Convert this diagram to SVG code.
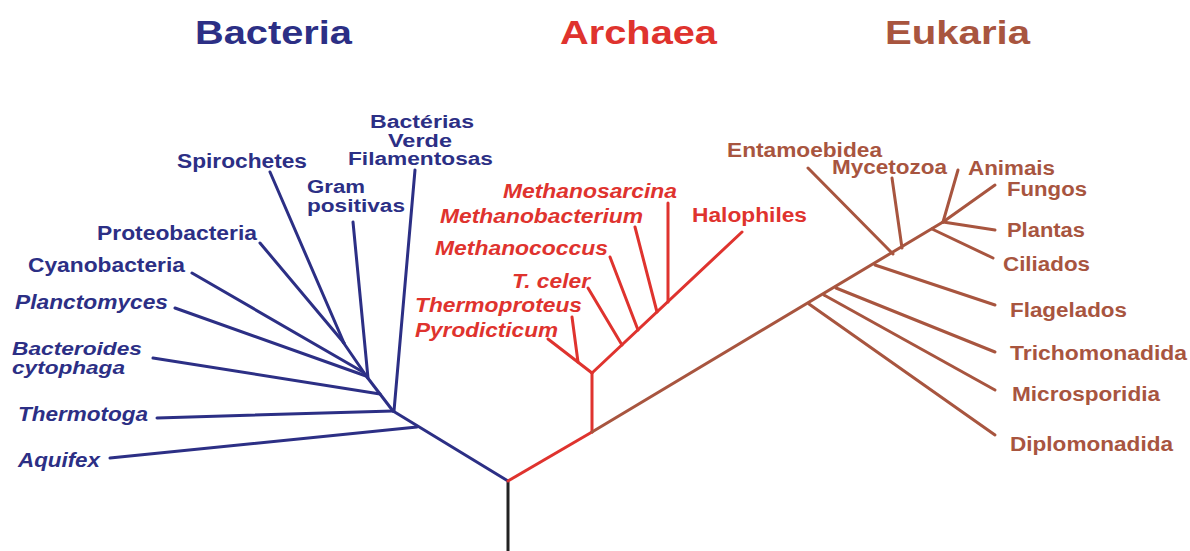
<svg xmlns="http://www.w3.org/2000/svg" width="1190" height="551" viewBox="0 0 1190 551">
<style>
text{font-family:"Liberation Sans",Arial,sans-serif;font-weight:bold;font-size:20px}
.title{font-size:33px}
.st{font-size:18px}
.it{font-style:italic}
.b{fill:#2c2f85}
.r{fill:#df332e}
.e{fill:#a8553f}
.lb{stroke:#2c2f85}
.lr{stroke:#df332e}
.le{stroke:#a8553f}
line,polyline{stroke-width:3;fill:none;stroke-linecap:round}
</style>
<rect width="1190" height="551" fill="#fff"/>
<g id="titles">
<text class="title b" x="195" y="44" textLength="157" lengthAdjust="spacingAndGlyphs">Bacteria</text>
<text class="title r" x="560" y="44" textLength="157" lengthAdjust="spacingAndGlyphs">Archaea</text>
<text class="title e" x="885" y="44" textLength="145" lengthAdjust="spacingAndGlyphs">Eukaria</text>
</g>
<g id="connectors">
<line x1="508" y1="482" x2="508" y2="551" stroke="#222" style="stroke-linecap:butt"/>
<!-- Bacteria -->
<line class="lb" x1="508" y1="481" x2="393" y2="411"/>
<line class="lb" x1="417" y1="427" x2="110" y2="458"/>
<line class="lb" x1="393" y1="411" x2="157" y2="418"/>
<line class="lb" x1="394" y1="411" x2="415" y2="170"/>
<line class="lb" x1="393" y1="411" x2="367" y2="377"/>
<line class="lb" x1="380" y1="394" x2="153" y2="358"/>
<line class="lb" x1="368" y1="378" x2="353" y2="222"/>
<line class="lb" x1="366" y1="376" x2="175" y2="308"/>
<line class="lb" x1="363" y1="372" x2="192" y2="273"/>
<line class="lb" x1="367" y1="377" x2="343" y2="342"/>
<line class="lb" x1="344" y1="343" x2="260" y2="243"/>
<line class="lb" x1="344" y1="343" x2="270" y2="172"/>
<!-- Archaea -->
<line class="lr" x1="508" y1="481" x2="592" y2="432"/>
<line class="lr" x1="592" y1="432" x2="592" y2="373"/>
<line class="lr" x1="592" y1="373" x2="548" y2="339"/>
<line class="lr" x1="578" y1="362" x2="572" y2="317"/>
<line class="lr" x1="592" y1="373" x2="742" y2="232"/>
<line class="lr" x1="622" y1="345" x2="588" y2="288"/>
<line class="lr" x1="638" y1="330" x2="610" y2="257"/>
<line class="lr" x1="657" y1="312" x2="635" y2="227"/>
<line class="lr" x1="668" y1="302" x2="668" y2="203"/>
<!-- Eukarya -->
<line class="le" x1="592" y1="432" x2="943" y2="222"/>
<line class="le" x1="809" y1="304" x2="995" y2="435"/>
<line class="le" x1="824" y1="295" x2="995" y2="390"/>
<line class="le" x1="836" y1="288" x2="995" y2="352"/>
<line class="le" x1="875" y1="265" x2="995" y2="305"/>
<line class="le" x1="893" y1="254" x2="808" y2="168"/>
<line class="le" x1="902" y1="248" x2="892" y2="178"/>
<line class="le" x1="932" y1="229" x2="993" y2="258"/>
<line class="le" x1="943" y1="222" x2="995" y2="230"/>
<line class="le" x1="943" y1="222" x2="995" y2="185"/>
<line class="le" x1="943" y1="222" x2="958" y2="170"/>
</g>
<g id="bacteria-labels">
<g id="n-verde"><text class="b st" x="370" y="128" textLength="104" lengthAdjust="spacingAndGlyphs">Bactérias</text>
<text class="b st" x="388" y="147" textLength="64" lengthAdjust="spacingAndGlyphs">Verde</text>
<text class="b st" x="348" y="165" textLength="145" lengthAdjust="spacingAndGlyphs">Filamentosas</text></g>
<g id="n-spirochetes"><text class="b" x="177" y="168" textLength="130" lengthAdjust="spacingAndGlyphs">Spirochetes</text></g>
<g id="n-gram"><text class="b st" x="307" y="193" textLength="58" lengthAdjust="spacingAndGlyphs">Gram</text>
<text class="b st" x="307" y="212" textLength="98" lengthAdjust="spacingAndGlyphs">positivas</text></g>
<g id="n-proteo"><text class="b" x="97" y="240" textLength="160" lengthAdjust="spacingAndGlyphs">Proteobacteria</text></g>
<g id="n-cyano"><text class="b" x="28" y="272" textLength="157" lengthAdjust="spacingAndGlyphs">Cyanobacteria</text></g>
<g id="n-plancto"><text class="b it" x="15" y="309" textLength="153" lengthAdjust="spacingAndGlyphs">Planctomyces</text></g>
<g id="n-bactero"><text class="b it st" x="12" y="355" textLength="130" lengthAdjust="spacingAndGlyphs">Bacteroides</text>
<text class="b it st" x="12" y="374" textLength="113" lengthAdjust="spacingAndGlyphs">cytophaga</text></g>
<g id="n-thermotoga"><text class="b it" x="18" y="421" textLength="130" lengthAdjust="spacingAndGlyphs">Thermotoga</text></g>
<g id="n-aquifex"><text class="b it" x="18" y="467" textLength="82" lengthAdjust="spacingAndGlyphs">Aquifex</text></g>
</g>
<g id="archaea-labels">
<g id="n-msarcina"><text class="r it" x="503" y="198" textLength="174" lengthAdjust="spacingAndGlyphs">Methanosarcina</text></g>
<g id="n-mbact"><text class="r it" x="440" y="223" textLength="203" lengthAdjust="spacingAndGlyphs">Methanobacterium</text></g>
<g id="n-mcocc"><text class="r it" x="435" y="255" textLength="173" lengthAdjust="spacingAndGlyphs">Methanococcus</text></g>
<g id="n-halo"><text class="r" x="692" y="222" textLength="115" lengthAdjust="spacingAndGlyphs">Halophiles</text></g>
<g id="n-tceler"><text class="r it" x="512" y="288" textLength="78" lengthAdjust="spacingAndGlyphs">T. celer</text></g>
<g id="n-thermoproteus"><text class="r it" x="415" y="312" textLength="167" lengthAdjust="spacingAndGlyphs">Thermoproteus</text></g>
<g id="n-pyro"><text class="r it" x="415" y="337" textLength="143" lengthAdjust="spacingAndGlyphs">Pyrodicticum</text></g>
</g>
<g id="eukarya-labels">
<g id="n-entam"><text class="e" x="727" y="157" textLength="155" lengthAdjust="spacingAndGlyphs">Entamoebidea</text></g>
<g id="n-myce"><text class="e" x="832" y="174" textLength="115" lengthAdjust="spacingAndGlyphs">Mycetozoa</text></g>
<g id="n-animais"><text class="e" x="968" y="175" textLength="87" lengthAdjust="spacingAndGlyphs">Animais</text></g>
<g id="n-fungos"><text class="e" x="1007" y="196" textLength="80" lengthAdjust="spacingAndGlyphs">Fungos</text></g>
<g id="n-plantas"><text class="e" x="1007" y="237" textLength="78" lengthAdjust="spacingAndGlyphs">Plantas</text></g>
<g id="n-ciliados"><text class="e" x="1003" y="271" textLength="87" lengthAdjust="spacingAndGlyphs">Ciliados</text></g>
<g id="n-flag"><text class="e" x="1010" y="317" textLength="117" lengthAdjust="spacingAndGlyphs">Flagelados</text></g>
<g id="n-tricho"><text class="e" x="1010" y="360" textLength="177" lengthAdjust="spacingAndGlyphs">Trichomonadida</text></g>
<g id="n-micro"><text class="e" x="1012" y="401" textLength="148" lengthAdjust="spacingAndGlyphs">Microsporidia</text></g>
<g id="n-diplo"><text class="e" x="1010" y="451" textLength="163" lengthAdjust="spacingAndGlyphs">Diplomonadida</text></g>
</g>
</svg>
